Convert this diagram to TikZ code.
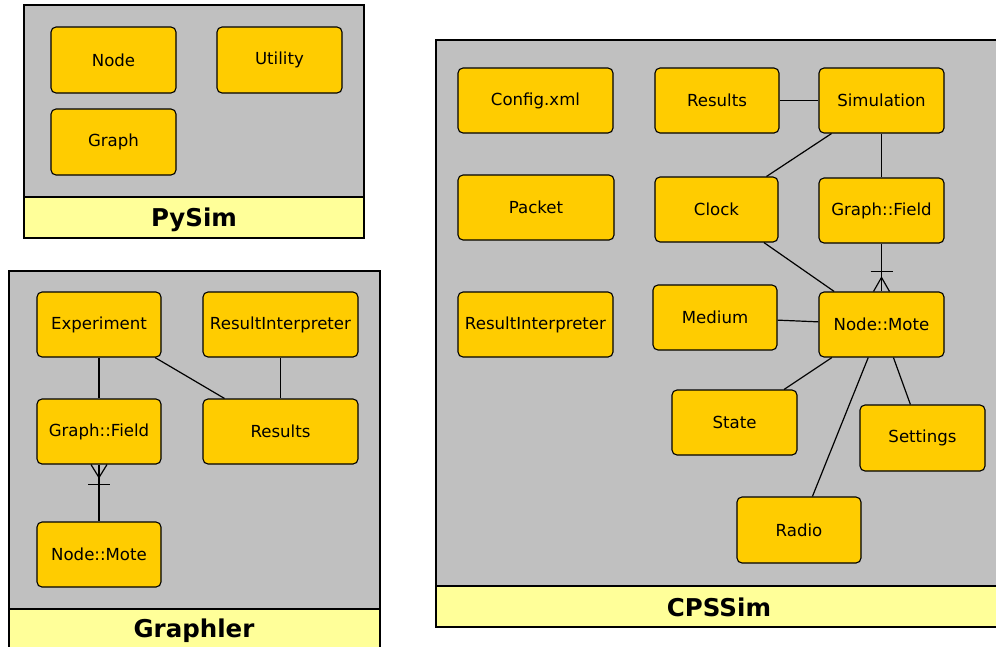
\documentclass[tikz,border=0pt]{standalone}
\usepackage{fontspec}
\setmainfont{DejaVu Sans}
\usetikzlibrary{calc}
\definecolor{pkgbody}{HTML}{C0C0C0}
\definecolor{pkgband}{HTML}{FFFF99}
\definecolor{boxfill}{HTML}{FFCC00}
\begin{document}
\begin{tikzpicture}[x=1pt,y=-1pt,
  cls/.style={draw=black, fill=boxfill, rounded corners=5pt, line width=1.1pt, inner sep=0pt, font=\fontsize{16.6}{19}\selectfont},
  pkg/.style={draw=black, fill=pkgbody, line width=1.1pt},
  band/.style={draw=black, fill=pkgband, line width=1.1pt},
  ttl/.style={font=\fontsize{24.5}{28}\selectfont\bfseries},
  link/.style={draw=black, line width=1.2pt}]
\useasboundingbox (0,0) rectangle (996,646);
\clip (0,0) rectangle (996,646);
% packages
\path[pkg] (24,5) rectangle (364,197);
\path[band] (24,197) rectangle (364,238);
\node[ttl] (tpy) at (194,219.5) {PySim};
\path[pkg] (9,271) rectangle (380,609);
\path[band] (9,609) rectangle (380,660);
\node[ttl] (tgr) at (194,630.5) {Graphler};
\path[pkg] (436,40) rectangle (1010,586);
\path[band] (436,586) rectangle (1010,627);
\node[ttl] (tcp) at (719,607.5) {CPSSim};
% helper macro for boxes: name, x1, y1, x2, y2, text
\newcommand{\clsbox}[6]{\node[cls, minimum width={#4-#2}, minimum height={#5-#3}] (#1) at ({(#2+#4)/2},{(#3+#5)/2}) {#6};}
% PySim
\clsbox{pnode}{51}{27}{176}{93}{Node}
\clsbox{putil}{217}{27}{342}{93}{Utility}
\clsbox{pgraph}{51}{109}{176}{175}{Graph}
% Graphler
\clsbox{gexp}{37}{292}{161}{357}{Experiment}
\clsbox{gri}{203}{292}{358}{357}{ResultInterpreter}
\clsbox{ggf}{37}{399}{161}{464}{Graph::Field}
\clsbox{gres}{203}{399}{358}{464}{Results}
\clsbox{gnm}{37}{522}{161}{587}{Node::Mote}
% CPSSim
\clsbox{ccfg}{458}{68}{613}{133}{Config.xml}
\clsbox{cres}{655}{68}{779}{133}{Results}
\clsbox{csim}{819}{68}{944}{133}{Simulation}
\clsbox{cpkt}{458}{175}{614}{240}{Packet}
\clsbox{cclk}{655}{177}{778}{242}{Clock}
\clsbox{cgf}{819}{178}{944}{243}{Graph::Field}
\clsbox{cri}{458}{292}{613}{357}{ResultInterpreter}
\clsbox{cmed}{653}{285}{777}{350}{Medium}
\clsbox{cnm}{819}{292}{944}{357}{Node::Mote}
\clsbox{cst}{672}{390}{797}{455}{State}
\clsbox{cset}{860}{405}{985}{471}{Settings}
\clsbox{crad}{737}{497}{861}{563}{Radio}
% Graphler links
\draw[link] (gexp) -- (ggf);
\draw[link] (gexp) -- (gres);
\draw[link] (gri) -- (gres);
\draw[link] (ggf) -- (gnm);
\draw[link] ($(ggf.south)+(-8,0)$) -- ($(ggf.south)+(0,13)$) -- ($(ggf.south)+(8,0)$);
\draw[link] ($(ggf.south)+(-11,20)$) -- ($(ggf.south)+(11,20)$);
% CPSSim links
\draw[link] (cres) -- (csim);
\draw[link] (csim) -- (cclk);
\draw[link] (csim) -- (cgf);
\draw[link] (cclk) -- (cnm);
\draw[link] (cgf) -- (cnm);
\draw[link] ($(cnm.north)+(-8,0)$) -- ($(cnm.north)+(0,-14)$) -- ($(cnm.north)+(8,0)$);
\draw[link] ($(cnm.north)+(-11,-20)$) -- ($(cnm.north)+(11,-20)$);
\draw[link] (cmed) -- (cnm);
\draw[link] (cnm) -- (cst);
\draw[link] (cnm) -- (crad);
\draw[link] (cnm) -- (cset);
\end{tikzpicture}
\end{document}
